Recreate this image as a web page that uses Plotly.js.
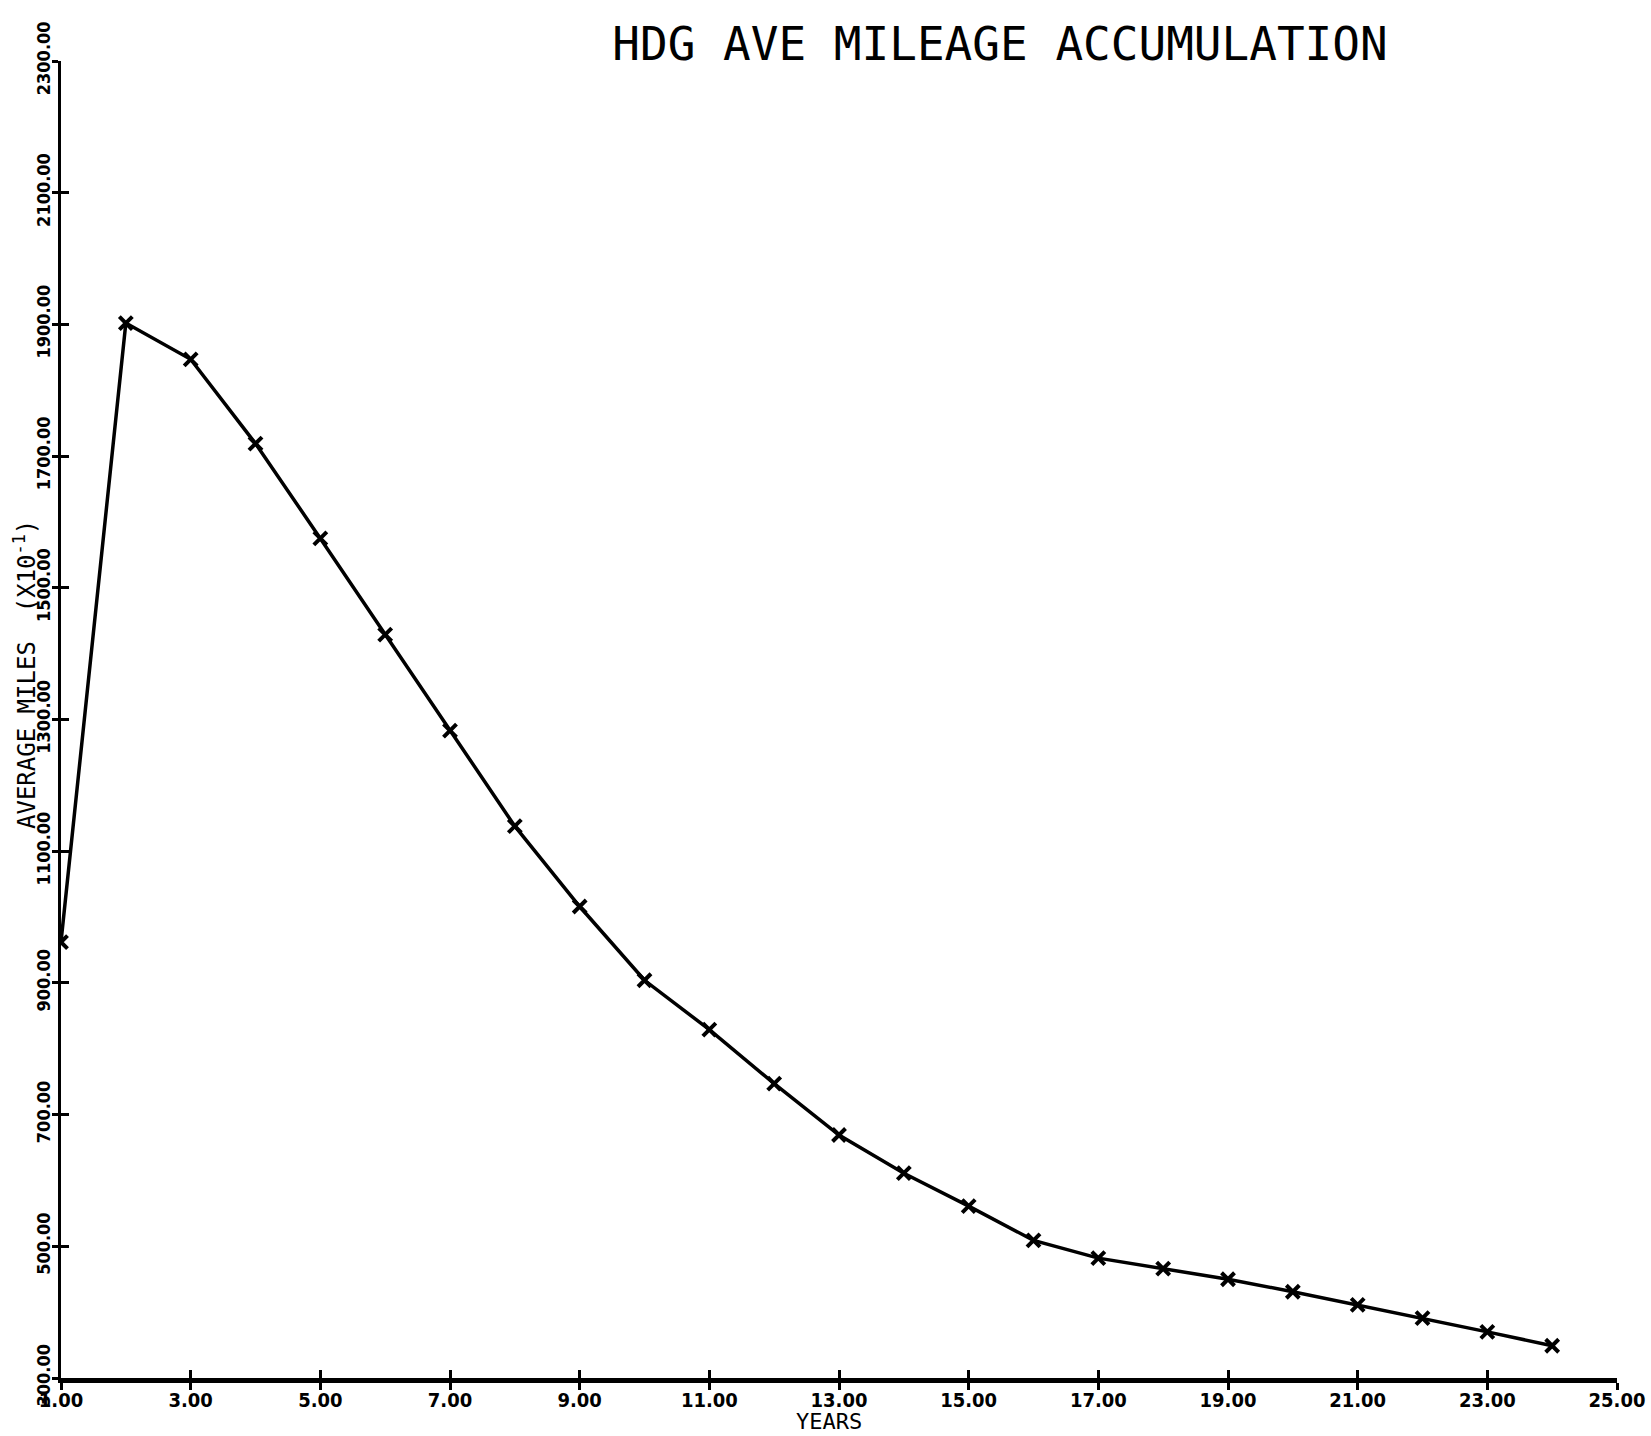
<!DOCTYPE html>
<html>
<head>
<meta charset="utf-8">
<script src="https://cdn.plot.ly/plotly-3.0.1.min.js"></script>
<style>
html, body { margin: 0; padding: 0; background: #ffffff; }
#chart { width: 1651px; height: 1436px; }
</style>
</head>
<body>
<div id="chart"></div>
<script>
// ---- Data ----
const years = [1, 2, 3, 4, 5, 6, 7, 8, 9, 10, 11, 12, 13, 14, 15, 16, 17, 18, 19, 20, 21, 22, 23, 24];
const avgMiles = [962, 1902, 1847, 1719, 1575, 1429, 1283, 1138, 1016, 904, 829, 747, 669, 611, 561, 509, 482, 466, 450, 431, 411, 391, 370, 349];

const xTickVals = [1, 3, 5, 7, 9, 11, 13, 15, 17, 19, 21, 23, 25];
const xTickText = ["1.00", "3.00", "5.00", "7.00", "9.00", "11.00", "13.00", "15.00", "17.00", "19.00", "21.00", "23.00", "25.00"];
const yTickVals = [300, 500, 700, 900, 1100, 1300, 1500, 1700, 1900, 2100, 2300];
const yTickText = ["300.00", "500.00", "700.00", "900.00", "1100.00", "1300.00", "1500.00", "1700.00", "1900.00", "2100.00", "2300.00"];

const titleText = "HDG AVE MILEAGE ACCUMULATION";
const xTitleText = "YEARS";
const yTitleText = "AVERAGE MILES  (X10<sup>-1</sup>)";

// ---- Styling ----
const narrow = "Liberation Sans Narrow, DejaVu Sans Condensed, Arial Narrow, sans-serif";
const mono = "DejaVu Sans Mono, Liberation Mono, monospace";
const xRange = [1, 25];
const yRange = [300, 2300];

const traces = [
  {
    x: years,
    y: avgMiles,
    type: "scatter",
    mode: "lines+markers",
    line: { color: "#000000", width: 3.5 },
    marker: { symbol: "x-thin-open", size: 13, color: "#000000", line: { color: "#000000", width: 4 } },
    showlegend: false,
    hoverinfo: "x+y"
  },
  {
    x: [1], y: [300], xaxis: "x2", yaxis: "y2",
    type: "scatter", mode: "markers", marker: { opacity: 0, size: 1 },
    showlegend: false, hoverinfo: "skip"
  }
];

const layout = {
  width: 1651,
  height: 1436,
  paper_bgcolor: "#ffffff",
  plot_bgcolor: "#ffffff",
  margin: { l: 61, r: 34, t: 61, b: 58, pad: 0 },
  showlegend: false,
  title: {
    text: titleText,
    font: { family: mono, size: 46, color: "#000000" },
    xref: "container", yref: "container",
    x: 1000 / 1651, xanchor: "center",
    y: 1 - 44 / 1436, yanchor: "middle"
  },
  xaxis: {
    range: xRange,
    tickmode: "array", tickvals: xTickVals, ticktext: xTickText,
    ticks: "outside", ticklen: 7, tickwidth: 3, tickcolor: "#000000",
    ticklabelstandoff: -7,
    showline: true, linewidth: 5, linecolor: "#000000",
    showgrid: false, zeroline: false,
    tickfont: { family: narrow, size: 20, color: "#000000", weight: "bold" }
  },
  yaxis: {
    range: yRange,
    tickmode: "array", tickvals: yTickVals, ticktext: yTickText,
    tickangle: -90,
    ticks: "outside", ticklen: 6, tickwidth: 3, tickcolor: "#000000",
    ticklabelstandoff: -5,
    showline: true, linewidth: 3, linecolor: "#000000",
    showgrid: false, zeroline: false,
    tickfont: { family: narrow, size: 18, color: "#000000", weight: "bold" }
  },
  xaxis2: {
    overlaying: "x", anchor: "y", side: "bottom",
    range: xRange, tickmode: "array", tickvals: xTickVals,
    ticks: "inside", ticklen: 8, tickwidth: 3, tickcolor: "#000000",
    showticklabels: false, showline: false, showgrid: false, zeroline: false
  },
  yaxis2: {
    overlaying: "y", anchor: "x", side: "left",
    range: yRange, tickmode: "array", tickvals: yTickVals,
    ticks: "inside", ticklen: 8, tickwidth: 3, tickcolor: "#000000",
    showticklabels: false, showline: false, showgrid: false, zeroline: false
  },
  annotations: [
    {
      text: yTitleText, textangle: -90,
      xref: "paper", yref: "paper",
      x: (25 - 61) / 1556, y: (1378 - 675) / 1317,
      xanchor: "center", yanchor: "middle", showarrow: false,
      font: { family: mono, size: 24, color: "#000000" }
    },
    {
      text: xTitleText,
      xref: "paper", yref: "paper",
      x: (829 - 61) / 1556, y: (1378 - 1421) / 1317,
      xanchor: "center", yanchor: "middle", showarrow: false,
      font: { family: mono, size: 22, color: "#000000" }
    }
  ]
};

Plotly.newPlot("chart", traces, layout, { displayModeBar: false, responsive: false });
</script>
</body>
</html>
